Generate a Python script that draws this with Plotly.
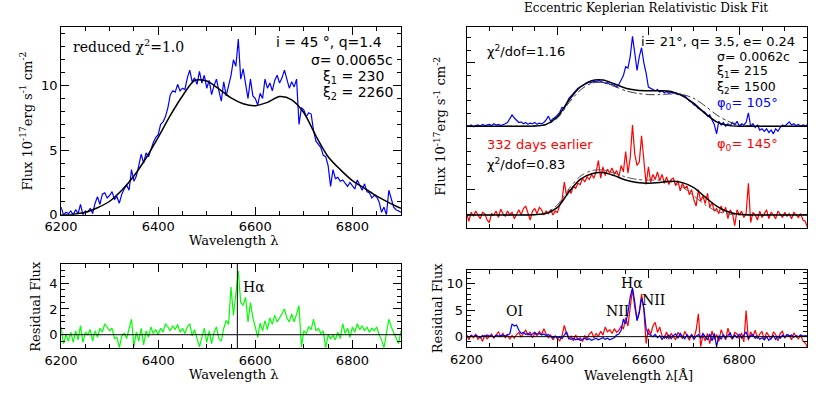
import plotly.graph_objects as go

W, H = 830, 420

# ---------------- data ----------------
# Left panel: observed spectrum (blue), disk model (black), residual (green)
wave_left = list(range(6200, 6901, 5))
flux_left = [
    0.6, 0.0, 0.2, 0.1, 0.3, 0.0, 0.4, 0.1, 0.8, 0.0,        # 6200
    0.3, 0.2, 0.5, 0.1, 0.9, 1.4, 0.8, 1.6, 1.7, 1.3,        # 6250
    1.5, 1.8, 1.2, 1.4, 0.9, 1.6, 2.0, 2.3, 1.9, 3.5,        # 6300
    2.6, 3.0, 3.8, 4.7, 4.0, 4.8, 4.5, 5.1, 5.6, 6.0,        # 6350
    6.2, 7.0, 7.2, 7.6, 8.3, 9.3, 9.6, 9.5, 10.1, 9.6,       # 6400
    9.8, 9.7, 10.6, 11.2, 10.3, 10.6, 10.1, 11.1, 10.2, 10.8,  # 6450
    9.8, 10.4, 9.3, 10.0, 10.5, 9.6, 8.8, 10.3, 9.2, 10.0,   # 6500
    10.8, 12.0, 11.5, 13.6, 10.5, 11.3, 10.0, 9.0, 10.5, 9.2,  # 6550
    9.0, 8.5, 9.4, 9.0, 10.5, 9.8, 10.2, 9.6, 10.4, 10.8,    # 6600
    10.2, 10.6, 11.2, 10.5, 9.8, 10.3, 9.9, 10.5, 7.0, 8.3,  # 6650
    8.1, 7.6, 7.9, 7.8, 6.5, 5.7, 5.4, 5.2, 4.6, 4.5,        # 6700
    3.8, 2.2, 3.5, 2.8, 2.9, 2.6, 2.7, 2.4, 2.2, 2.5,        # 6750
    2.2, 2.0, 2.7, 2.3, 1.9, 2.4, 1.8, 1.7, 1.3, 1.5,        # 6800
    1.4, 1.0, 0.2, 0.6, 0.0, 1.9, 1.2, 0.6, 0.4, 0.3,        # 6850
    0.2,                                                     # 6900
]
resid_left = [
    0.6, -0.7, 0.0, -0.5, 0.2, -0.6, 0.3, -0.4, 0.7, -0.6,   # 6200
    0.2, 0.0, 0.4, -0.5, 0.3, -0.2, 0.5, 0.2, 0.85, 0.6,     # 6250
    0.3, 0.5, -0.3, -0.2, -1.0, -0.1, 0.1, -0.3, 0.5, 1.2,   # 6300
    -0.9, 0.2, -0.5, 0.5, -0.8, 0.3, -0.2, 0.6, 0.1, 0.4,    # 6350
    0.0, 0.5, 0.2, 0.85, 0.6, 0.3, 0.7, 0.4, 0.8, 0.2,       # 6400
    0.5, 0.1, 0.6, 0.85, -0.1, 0.4, -0.3, -0.95, -0.2, 0.5,  # 6450
    -0.6, 0.3, -0.7, 0.2, 0.6, -0.3, -0.5, 0.5, 1.1, 0.8,    # 6500
    3.7, 1.5, 3.2, 4.95, 2.5, 2.3, 2.9, 1.0, 2.5, 1.3,       # 6550
    0.6, -0.2, 0.9, 0.3, 1.1, 0.4, 1.3, 0.8, 1.5, 1.0,       # 6600
    1.3, 1.7, 2.0, 1.3, 1.0, 1.6, 1.0, 1.6, 2.25, -0.95,     # 6650
    0.3, 0.1, 0.6, 0.4, 1.2, 0.3, 0.5, 0.1, 0.3, -1.0,       # 6700
    0.0, -0.3, -0.05, -0.4, 0.2, -0.3, 0.85, 0.1, 0.5, -0.2, # 6750
    0.6, 0.2, 0.85, 0.4, 0.7, 0.3, 0.6, 0.2, 0.5, 0.3,       # 6800
    0.6, 0.0, -0.4, -1.0, 0.3, 1.2, 0.6, 0.2, -0.2, -0.7,    # 6850
    0.3,                                                     # 6900
]
model_wave_left = [6200, 6225, 6250, 6275, 6300, 6325, 6350, 6375, 6400, 6425,
                   6450, 6475, 6500, 6525, 6550, 6575, 6600, 6625, 6650, 6675,
                   6700, 6725, 6750, 6775, 6800, 6825, 6850, 6875, 6900]
model_left = [0.0, 0.05, 0.2, 0.55, 1.05, 1.9, 3.0, 4.4, 6.0, 7.7,
              9.2, 10.4, 10.35, 9.75, 9.05, 8.6, 8.45, 8.7, 9.15, 8.9,
              7.9, 6.1, 4.5, 3.5, 2.65, 2.05, 1.45, 0.95, 0.5]

# Right panel: current epoch (blue), 332 days earlier (red)
wave_right = list(range(6200, 6951, 5))
flux_blue = [
    0.05, 0.0, 0.1, -0.05, 0.05, 0.1, 0.0, 0.15, 0.05, 0.1,  # 6200
    0.15, 0.05, 0.2, 0.1, 0.15, 0.05, 0.1, 0.2, 0.3, 0.6,    # 6250
    0.9, 0.65, 0.5, 0.3, 0.35, 0.2, 0.3, 0.15, 0.25, 0.2,    # 6300
    0.3, 0.15, 0.25, 0.2, 0.3, 0.5, 0.8, 0.4, 0.6, 0.7,      # 6350
    0.9, 1.1, 1.5, 1.4, 1.8, 2.2, 2.4, 2.6, 2.8, 3.0,        # 6400
    3.1, 3.2, 3.3, 3.4, 3.5, 3.45, 3.55, 3.5, 3.6, 3.55,     # 6450
    3.5, 3.4, 3.45, 3.3, 3.35, 3.2, 3.1, 3.3, 3.6, 4.0,      # 6500
    4.7, 4.6, 5.5, 7.1, 5.8, 4.4, 5.5, 6.2, 5.0, 4.2,        # 6550
    3.1, 3.0, 2.9, 2.8, 2.9, 2.7, 2.8, 2.65, 2.75, 2.6,      # 6600
    2.7, 2.6, 2.65, 2.5, 2.55, 2.4, 2.4, 2.2, 2.0, 1.9,      # 6650
    1.7, 1.6, 1.4, 1.3, 1.2, 1.1, 0.8, 0.9, 0.5, 0.15,       # 6700
    -0.6, 0.4, 0.1, 0.3, 0.0, 0.2, 0.05, 0.3, 0.1, 0.4,      # 6750
    0.0, 0.2, 0.1, 0.3, 1.05, 0.0, 0.2, -0.1, 0.1, -0.3,     # 6800
    -0.2, -0.4, -0.2, -0.5, -0.3, -0.6, -0.2, -0.4, -0.1, 0.1,  # 6850
    0.0, 0.2, 0.35, 0.1, 0.2, 0.05, 0.15, 0.0, 0.1, 0.05,    # 6900
    0.1,                                                     # 6950
]
flux_red = [
    0.1, -0.5, 0.2, -0.1, 0.3, 0.0, -0.3, 0.2, 0.1, -0.4,    # 6200
    -0.6, 0.1, 0.0, 0.3, -0.2, 0.45, 0.1, -0.1, 0.3, 0.0,    # 6250
    0.2, -0.3, 0.1, 0.4, 0.0, 0.5, 0.7, 0.2, -0.4, 0.3,      # 6300
    0.5, 0.1, 0.6, 0.4, 0.0, 0.3, 0.1, 0.4, 0.0, 0.3,        # 6350
    0.2, 0.8, 1.2, 2.6, 1.5, 2.0, 1.7, 2.3, 2.1, 2.5,        # 6400
    2.4, 2.9, 2.6, 3.0, 2.8, 3.2, 2.9, 3.4, 4.3, 2.9,        # 6450
    3.8, 3.1, 3.6, 3.3, 3.7, 3.2, 3.5, 3.0, 3.9, 3.4,        # 6500
    5.0, 3.3, 4.5, 7.1, 4.8, 3.9, 4.2, 6.25, 4.6, 2.4,       # 6550
    3.8, 2.6, 3.2, 2.8, 3.4, 2.7, 3.2, 2.5, 3.0, 2.4,        # 6600
    2.8, 2.9, 2.3, 2.7, 1.9, 2.5, 2.1, 2.3, 1.6, 2.0,        # 6650
    1.2, 0.7, 2.0, 1.1, 1.5, 0.9, 1.7, 0.6, 1.0, 0.3,        # 6700
    0.5, 0.1, 0.7, 0.2, 0.6, -0.3, 0.4, 0.1, -0.85, 0.4,     # 6750
    0.0, 0.3, -0.2, 0.1, 2.5, -0.6, 0.2, 0.0, -0.4, 0.3,     # 6800
    -0.2, 0.1, 0.4, -0.3, 0.2, 0.0, -0.3, 0.3, 0.0, -0.2,    # 6850
    0.2, -0.1, 0.1, -0.3, 0.2, 0.0, -0.2, 0.1, -0.4, -0.5,   # 6900
    -1.0,                                                    # 6950
]
resid_blue = [
    0.2, -0.1, 0.2, 0.0, 0.3, 0.1, -0.2, 0.2, 0.0, 0.3,      # 6200
    0.1, 0.2, -0.1, 0.3, 0.1, 0.2, 0.3, 0.1, 0.4, 0.5,       # 6250
    2.4, 2.0, 2.2, 1.2, 0.6, 0.8, 0.4, 0.6, 0.3, 0.5,        # 6300
    0.8, 0.4, 0.6, 0.3, 0.5, 0.2, 0.4, 0.0, -0.2, 0.1,       # 6350
    -0.3, -0.1, -0.4, 0.3, 0.9, -0.3, -0.5, -0.3, -0.6, -0.4,  # 6400
    -0.7, -0.5, -0.3, -0.6, -0.4, -0.7, -0.5, -0.3, -0.6, -0.4,  # 6450
    -0.2, -0.5, -0.3, -0.6, -0.4, -0.2, 0.3, 0.5, 1.2, 3.3,  # 6500
    2.4, 4.5, 7.5, 9.2, 6.5, 3.0, 4.5, 7.3, 5.5, 1.5,        # 6550
    0.55, 0.3, 0.0, 0.4, -0.2, 0.2, -0.5, 0.1, -0.3, 0.3,    # 6600
    -0.4, 0.2, 0.5, -0.3, 0.6, 0.0, -0.4, 0.4, -0.2, 0.3,    # 6650
    -0.5, 0.1, 0.4, -0.3, 0.6, 0.0, -0.6, 0.5, -0.8, 0.6,    # 6700
    -1.9, 0.2, -0.5, 0.4, -0.3, 0.2, 0.7, -0.4, 0.3, -0.2,   # 6750
    0.5, -0.3, 0.3, 0.9, -0.4, 0.2, 0.4, -0.3, 0.1, -0.5,    # 6800
    -0.2, -0.6, 0.0, -0.7, -0.3, 0.2, -0.5, 0.1, -0.3, 0.3,  # 6850
    -0.1, 0.4, 0.1, 0.3, -0.1, 0.2, 0.0, 0.3, 0.1, 0.2,      # 6900
    0.1,                                                     # 6950
]
resid_red = [
    0.2, -0.6, 0.3, -0.2, 0.4, -0.5, 0.1, -0.9, 0.3, -0.4,   # 6200
    0.0, 0.5, -0.3, 0.2, 0.9, 0.0, 0.6, -0.2, 0.3, -0.5,     # 6250
    0.2, -0.3, 0.4, 0.8, -0.1, 0.6, 1.2, 0.3, 0.9, -0.2,     # 6300
    0.6, 0.2, 1.0, 0.4, 1.5, 0.5, -0.2, 0.3, -0.6, 0.1,      # 6350
    -0.4, -0.8, 0.2, 2.1, 0.6, -0.5, 0.1, -0.8, 0.3, -0.6,   # 6400
    -0.2, -0.9, 0.2, -0.4, 0.5, 0.9, -0.2, 0.6, 0.1, 1.0,    # 6450
    0.3, 1.8, 0.9, 1.3, 0.6, 1.5, 0.8, 1.2, 2.0, 1.4,        # 6500
    3.6, 2.0, 5.5, 8.9, 5.5, 3.2, 4.8, 8.0, 5.0, -1.3,       # 6550
    1.5, 0.4, 2.0, 2.7, 0.8, 1.8, 0.2, -0.3, 0.9, -0.5,      # 6600
    0.6, 0.1, -0.6, 0.8, 0.2, -0.4, 1.0, 0.0, -0.7, 0.5,     # 6650
    -0.3, 1.2, 4.3, -1.9, 0.3, -0.8, 0.6, -1.3, 1.1, -0.5,   # 6700
    0.4, -0.9, 1.3, 0.2, -0.6, 1.6, 0.0, -0.5, 0.8, 0.5,     # 6750
    -0.4, 0.7, -1.0, 4.9, -0.7, 0.9, 0.0, 1.2, -0.4, 0.5,    # 6800
    1.0, -0.6, 0.8, 0.2, -0.5, 0.9, 0.4, -0.8, 0.6, 1.0,     # 6850
    -0.3, 0.4, 0.2, -0.6, 0.7, 0.0, -0.4, 0.3, -0.8, -1.2,   # 6900
    -2.0,                                                    # 6950
]
model_wave_right = [6200, 6300, 6350, 6375, 6400, 6425, 6450, 6475, 6500, 6525,
                    6550, 6575, 6600, 6625, 6650, 6675, 6700, 6725, 6750, 6775,
                    6800, 6825, 6850, 6950]
model_blue_solid = [0, 0, 0.02, 0.15, 0.75, 2.05, 3.1, 3.6, 3.65, 3.35,
                    3.0, 2.85, 2.8, 2.8, 2.75, 2.4, 1.8, 1.0, 0.35, 0.07,
                    0.0, 0, 0, 0]
model_blue_dash = [0, 0, 0.02, 0.12, 0.65, 1.85, 2.85, 3.4, 3.45, 3.15,
                   2.8, 2.6, 2.5, 2.5, 2.55, 2.5, 2.2, 1.6, 0.9, 0.4,
                   0.1, 0.02, 0, 0]
model_red_solid = [0, 0, 0.02, 0.12, 0.6, 1.8, 2.8, 3.25, 3.35, 3.1,
                   2.75, 2.55, 2.5, 2.55, 2.65, 2.55, 2.15, 1.4, 0.7, 0.25,
                   0.05, 0, 0, 0]
model_red_dash = [0, 0, 0.03, 0.18, 0.8, 2.05, 3.05, 3.5, 3.55, 3.3,
                  3.0, 2.8, 2.75, 2.75, 2.6, 2.2, 1.5, 0.8, 0.3, 0.07,
                  0.0, 0, 0, 0]
blue_offset = 7.0
halpha = 6563

assert len(flux_left) == len(wave_left) == len(resid_left)
assert len(model_left) == len(model_wave_left)
for arr in (flux_blue, flux_red, resid_blue, resid_red):
    assert len(arr) == len(wave_right), len(arr)
for arr in (model_blue_solid, model_blue_dash, model_red_solid, model_red_dash):
    assert len(arr) == len(model_wave_right)

# ---------------- figure ----------------
BLUE, RED, GREEN = "#0000ff", "#ff0000", "#00ff00"
SANS = "DejaVu Sans"
SERIF = "DejaVu Serif"

fig = go.Figure()

def line(x, y, color, xa, ya, width=1.2, dash=None, spline=False):
    fig.add_trace(go.Scatter(
        x=x, y=y, mode="lines", xaxis=xa, yaxis=ya, showlegend=False,
        hoverinfo="skip",
        line=dict(color=color, width=width, dash=dash,
                  shape="spline" if spline else "linear", smoothing=0.8)))

# left top
line(wave_left, flux_left, BLUE, "x", "y")
line(model_wave_left, model_left, "black", "x", "y", width=1.5, spline=True)
# left bottom
line(wave_left, resid_left, GREEN, "x2", "y2")
# right top
blue_shifted = [v + blue_offset for v in flux_blue]
line(wave_right, blue_shifted, BLUE, "x3", "y3")
line(wave_right, flux_red, RED, "x3", "y3")
line(model_wave_right, [v + blue_offset for v in model_blue_dash], "#333333", "x3", "y3",
     width=1.0, dash="dashdot", spline=True)
line(model_wave_right, [v + blue_offset for v in model_blue_solid], "black", "x3", "y3",
     width=1.5, spline=True)
line(model_wave_right, model_red_dash, "#555555", "x3", "y3", width=1.0, dash="dashdot", spline=True)
line(model_wave_right, model_red_solid, "black", "x3", "y3", width=1.5, spline=True)
# right bottom
line(wave_right, resid_red, RED, "x4", "y4")
line(wave_right, resid_blue, BLUE, "x4", "y4")

def dx(a, b):
    return [a / W, b / W]

def dy(top, bottom):
    return [1 - bottom / H, 1 - top / H]

tickfont = dict(family=SANS, size=13, color="black")
base = dict(showline=True, linecolor="black", linewidth=1, mirror="allticks",
            ticks="inside", ticklen=8, tickwidth=1, tickcolor="black",
            showgrid=False, zeroline=False, tickfont=tickfont, fixedrange=True)

def minor(dt, t0):
    return dict(ticks="inside", ticklen=4, tickwidth=1, tickcolor="black",
                dtick=dt, tick0=t0, showgrid=False)

fig.update_layout(
    width=W, height=H, autosize=False,
    margin=dict(l=0, r=0, t=0, b=0),
    paper_bgcolor="white", plot_bgcolor="white",
    xaxis=dict(base, domain=dx(45, 392), range=[6200, 6900], dtick=200, tick0=6200,
               minor=minor(50, 6200), anchor="y"),
    yaxis=dict(base, domain=dy(28, 219), range=[0, 14.5], dtick=5, tick0=0,
               minor=minor(1, 0), anchor="x"),
    xaxis2=dict(base, domain=dx(45, 392), range=[6200, 6900], dtick=200, tick0=6200,
                minor=minor(50, 6200), anchor="y2"),
    yaxis2=dict(base, domain=dy(269, 355), range=[-1.05, 5.5], dtick=2, tick0=0,
                minor=minor(0.5, 0), anchor="x2"),
    xaxis3=dict(base, domain=dx(459, 807), range=[6200, 6950], dtick=200, tick0=6200,
                minor=minor(50, 6200), anchor="y3", showticklabels=False),
    yaxis3=dict(base, domain=dy(28, 232), range=[-1.0, 14.8], dtick=10, tick0=2,
                minor=minor(1, 0), anchor="x3", showticklabels=False),
    xaxis4=dict(base, domain=dx(459, 807), range=[6200, 6950], dtick=200, tick0=6200,
                minor=minor(50, 6200), anchor="y4"),
    yaxis4=dict(base, domain=dy(275, 354), range=[-2.0, 12.6], dtick=5, tick0=0,
                minor=minor(1, 0), anchor="x4"),
)

# reference lines
fig.add_shape(type="line", xref="x2 domain", yref="y2", x0=0, x1=1, y0=0, y1=0,
              line=dict(color="black", width=1))
fig.add_shape(type="line", xref="x2", yref="y2 domain", x0=halpha, x1=halpha, y0=0, y1=1,
              line=dict(color="black", width=1))
fig.add_shape(type="line", xref="x4 domain", yref="y4", x0=0, x1=1, y0=0, y1=0,
              line=dict(color="black", width=1))

def text(t, x, y, size=13, family=SANS, color="black", xanchor="left", angle=0):
    fig.add_annotation(text=t, x=x / W, y=1 - y / H, xref="paper", yref="paper",
                       showarrow=False, xanchor=xanchor, yanchor="middle",
                       textangle=angle, font=dict(family=family, size=size, color=color))

# titles / axis labels
text("Eccentric Keplerian Relativistic Disk Fit", 642, 8, size=12, family=SERIF, xanchor="center")
flux_lbl = "Flux 10<sup>-17</sup>erg s<sup>-1</sup> cm<sup>-2</sup>"
text(flux_lbl, 9, 123, size=13, family=SERIF, xanchor="center", angle=-90)
text(flux_lbl, 431, 129, size=13, family=SERIF, xanchor="center", angle=-90)
text("Residual Flux", 18, 312, size=13, family=SERIF, xanchor="center", angle=-90)
text("Residual Flux", 429, 314, size=13, family=SERIF, xanchor="center", angle=-90)
text("Wavelength λ", 222, 245, size=13, family=SERIF, xanchor="center")
text("Wavelength λ", 222, 382, size=13, family=SERIF, xanchor="center")
text("Wavelength λ[Å]", 635, 383, size=13, family=SERIF, xanchor="center")

# left panel annotations
text("reduced χ<sup>2</sup>=1.0", 55, 47, size=14, family=SERIF)
text("i = 45 °, q=1.4", 262, 43, size=14)
text("σ= 0.0065c", 298, 61, size=14)
text("ξ<sub>1</sub> = 230", 310, 78, size=14)
text("ξ<sub>2</sub> = 2260", 310, 95, size=14)
text("Hα", 242, 293, size=14, family=SERIF, xanchor="center")

# right panel annotations
text("χ<sup>2</sup>/dof=1.16", 478, 52, size=13)
text("i= 21°, q= 3.5, e= 0.24", 635, 42, size=13)
text("σ= 0.0062c", 713, 58, size=12.5)
text("ξ<sub>1</sub>= 215", 713, 73, size=12.5)
text("ξ<sub>2</sub>= 1500", 713, 89, size=12.5)
text("φ<sub>0</sub>= 105°", 713, 106, size=13, color=BLUE)
text("332 days earlier", 478, 147, size=13, color=RED)
text("φ<sub>0</sub>= 145°", 713, 147, size=13, color=RED)
text("χ<sup>2</sup>/dof=0.83", 478, 167, size=13)
text("OI", 508, 317, size=14, family=SERIF, xanchor="center")
text("NII", 613, 317, size=14, family=SERIF, xanchor="center")
text("Hα", 628, 289, size=14, family=SERIF, xanchor="center")
text("NII", 650, 306, size=14, family=SERIF, xanchor="center")

fig.write_html("out.html", config={"displayModeBar": False},
               post_script="document.body.style.margin='0px';")
